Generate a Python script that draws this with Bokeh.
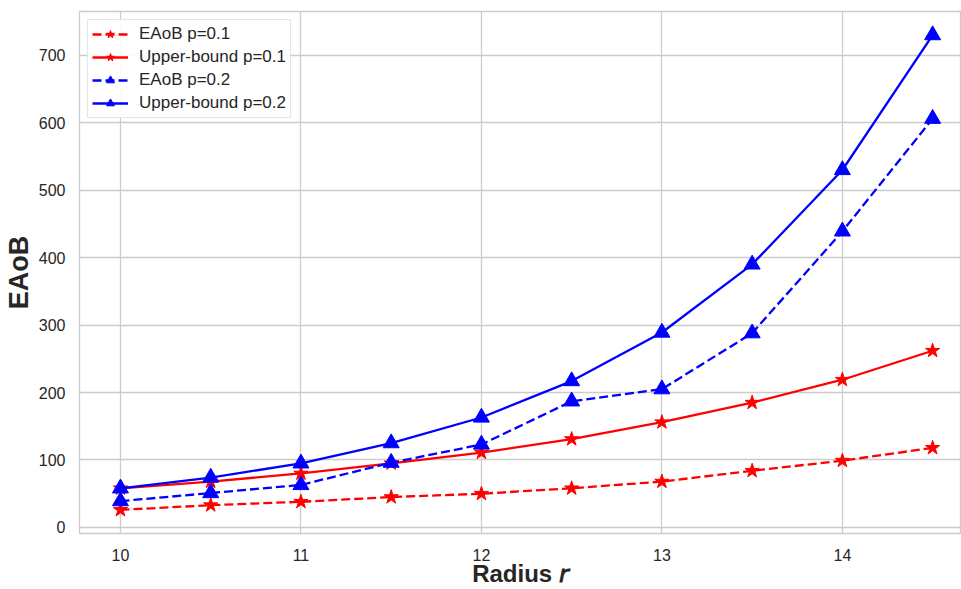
from bokeh.plotting import figure
from bokeh.models import Range1d, Legend, LegendItem, FixedTicker
from bokeh.embed import file_html
from bokeh.resources import INLINE

radius = [10, 10.5, 11, 11.5, 12, 12.5, 13, 13.5, 14, 14.5]
eaob_p01 = [26, 33, 38, 45, 50, 58, 68, 84, 99, 118]
upper_p01 = [58, 68, 80, 95, 111, 131, 156, 185, 219, 262]
eaob_p02 = [39, 51, 63, 96, 123, 187, 205, 288, 439, 606]
upper_p02 = [58, 74, 95, 125, 163, 217, 289, 390, 530, 730]
x_ticks = [10, 11, 12, 13, 14]
y_ticks = [0, 100, 200, 300, 400, 500, 600, 700]

FONT = "Liberation Sans"
GRID = "#cccccc"
TEXT = "#262626"

p = figure(width=961, height=589, output_backend="svg", toolbar_location=None,
           x_range=Range1d(9.773, 14.66), y_range=Range1d(-9, 765))
p.min_border_left = 0
p.min_border_right = 0
p.min_border_top = 11
p.min_border_bottom = 0
p.outline_line_color = GRID
p.outline_line_width = 1.3
p.background_fill_color = "white"
p.border_fill_color = "white"

for ax in (p.xaxis, p.yaxis):
    ax.axis_line_color = None
    ax.major_tick_line_color = None
    ax.minor_tick_line_color = None
    ax.major_label_text_font = FONT
    ax.major_label_text_font_size = "16px"
    ax.major_label_text_color = TEXT
    ax.axis_label_text_font = FONT
    ax.axis_label_text_font_style = "bold"
    ax.axis_label_text_color = TEXT
p.xaxis.axis_label_text_font_size = "24px"
p.yaxis.axis_label_text_font_size = "27px"
p.xaxis.ticker = FixedTicker(ticks=x_ticks)
p.yaxis.ticker = FixedTicker(ticks=y_ticks)
p.xaxis.major_label_standoff = 9
p.yaxis.major_label_standoff = 8
p.xaxis.axis_label = "Radius \U0001D633"
p.yaxis.axis_label = "EAoB"
p.xaxis.axis_label_standoff = -4
p.yaxis.axis_label_standoff = 2
p.xgrid.grid_line_color = GRID
p.ygrid.grid_line_color = GRID
p.xgrid.grid_line_width = 1.3
p.ygrid.grid_line_width = 1.3
p.xgrid.ticker = FixedTicker(ticks=x_ticks)
p.ygrid.ticker = FixedTicker(ticks=y_ticks)

series = [
    ("EAoB p=0.1", eaob_p01, "red", "9 4", "star", 15),
    ("Upper-bound p=0.1", upper_p01, "red", "solid", "star", 15),
    ("EAoB p=0.2", eaob_p02, "blue", "9 4", "triangle", 16),
    ("Upper-bound p=0.2", upper_p02, "blue", "solid", "triangle", 16),
]
items = []
for label, ys, color, dash, marker, size in series:
    l = p.line(radius, ys, line_color=color, line_width=2.3, line_dash=dash)
    s = p.scatter(radius, ys, marker=marker, size=size, fill_color=color, line_color=color)
    items.append(LegendItem(label=label, renderers=[l, s]))

legend = Legend(items=items, location="top_left")
legend.label_text_font = FONT
legend.label_text_font_size = "17px"
legend.label_text_color = TEXT
legend.border_line_color = GRID
legend.border_line_width = 1.3
legend.background_fill_alpha = 0.9
legend.glyph_width = 36
legend.glyph_height = 20
legend.label_height = 20
legend.spacing = 3
legend.padding = 4
legend.margin = 8
legend.label_standoff = 11
p.add_layout(legend)

open("out.html", "w").write(file_html(p, INLINE))
